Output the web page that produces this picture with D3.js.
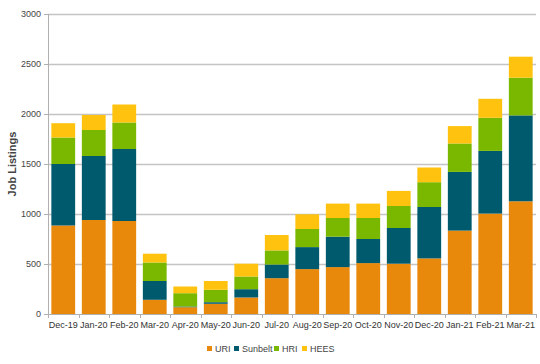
<!DOCTYPE html>
<html>
<head>
<meta charset="utf-8">
<script src="https://cdn.jsdelivr.net/npm/d3@7"></script>
<style>
  body { margin: 0; background: #fff; }
  text { font-family: "Liberation Sans", Arial, sans-serif; }
</style>
</head>
<body>
<div id="chart-area"></div>
<script>
var months = ["Dec-19", "Jan-20", "Feb-20", "Mar-20", "Apr-20", "May-20", "Jun-20", "Jul-20",
  "Aug-20", "Sep-20", "Oct-20", "Nov-20", "Dec-20", "Jan-21", "Feb-21", "Mar-21"]
var seriesNames = ["URI", "Sunbelt", "HRI", "HEES"]
var uri     = [885, 940, 930, 142, 68, 102, 165, 358, 449, 469, 509, 503, 556, 834, 1004, 1127]
var sunbelt = [615, 640, 720, 188, 7, 16, 83, 137, 220, 304, 241, 357, 514, 587, 627, 859]
var hri     = [265, 260, 265, 185, 133, 124, 127, 141, 181, 187, 210, 220, 248, 284, 331, 377]
var hees    = [143, 150, 180, 88, 67, 88, 128, 154, 147, 144, 144, 151, 147, 174, 190, 210]
var yTicks = [0, 500, 1000, 1500, 2000, 2500, 3000]
var colors = ["#E8890C", "#005A6E", "#7AB800", "#FFC20E"]

var margin = { left: 48, right: 4, top: 14, bottom: 50 }
var width = 540 - margin.left - margin.right,
    height = 364 - margin.top - margin.bottom

var svg = d3.select("#chart-area")
    .append("svg")
    .attr("width", 540)
    .attr("height", 364)
var g = svg.append("g")
    .attr("transform", "translate(" + margin.left + "," + margin.top + ")")

var x = d3.scaleBand()
    .domain(months)
    .range([0, width])
    .paddingInner(0.22)
    .paddingOuter(0.11)
var y = d3.scaleLinear()
    .domain([0, 3000])
    .range([height, 0])
var color = d3.scaleOrdinal().domain(seriesNames).range(colors)

// gridlines
g.selectAll(".grid")
    .data(yTicks.slice(1))
    .enter().append("line")
    .attr("x1", 0).attr("x2", width)
    .attr("y1", d => y(d) + 0.5).attr("y2", d => y(d) + 0.5)
    .attr("stroke", "#c4c4c4")
    .attr("stroke-width", 1.3)

var rows = months.map((m, i) => ({ month: m, URI: uri[i], Sunbelt: sunbelt[i], HRI: hri[i], HEES: hees[i] }))
var stacked = d3.stack().keys(seriesNames)(rows)

g.selectAll(".layer")
    .data(stacked)
    .enter().append("g")
    .attr("fill", d => color(d.key))
    .selectAll("rect")
    .data(d => d)
    .enter().append("rect")
    .attr("x", d => x(d.data.month))
    .attr("width", x.bandwidth())
    .attr("y", d => y(d[1]))
    .attr("height", d => y(d[0]) - y(d[1]))

// y axis
var yAxisCall = d3.axisLeft(y).tickValues(yTicks).tickFormat(d3.format("d")).tickSize(4).tickPadding(3)
var yAxis = g.append("g").call(yAxisCall)
yAxis.select(".domain").attr("stroke", "#b0b0b0").attr("d", "M0.5," + height + "V0")
yAxis.selectAll(".tick line").attr("stroke", "#b0b0b0")
yAxis.selectAll("text").attr("fill", "#444").attr("font-size", "9px")
    .attr("font-family", "Liberation Sans, Arial, sans-serif")

// x axis with ticks between categories
var xAxis = g.append("g").attr("transform", "translate(0," + height + ")")
xAxis.append("line")
    .attr("x1", 0).attr("x2", width)
    .attr("y1", 0.5).attr("y2", 0.5)
    .attr("stroke", "#b0b0b0")
var bounds = d3.range(months.length + 1).map(i => i * width / months.length)
xAxis.selectAll(".xtick")
    .data(bounds)
    .enter().append("line")
    .attr("x1", d => Math.round(d) + 0.5).attr("x2", d => Math.round(d) + 0.5)
    .attr("y1", 0).attr("y2", 4)
    .attr("stroke", "#b0b0b0")
xAxis.selectAll(".xlabel")
    .data(months)
    .enter().append("text")
    .attr("x", d => x(d) + x.bandwidth() / 2)
    .attr("y", 14)
    .attr("text-anchor", "middle")
    .attr("font-size", "9px")
    .attr("fill", "#333")
    .text(d => d)

// y label
svg.append("text")
    .attr("transform", "rotate(-90)")
    .attr("x", -(margin.top + height / 2))
    .attr("y", 16)
    .attr("text-anchor", "middle")
    .attr("font-size", "11px")
    .attr("font-weight", "bold")
    .attr("fill", "#444")
    .text("Job Listings")

// legend
var legendX = [207, 234, 274, 302]
var legend = svg.selectAll(".legend")
    .data(seriesNames)
    .enter().append("g")
    .attr("transform", (d, i) => "translate(" + legendX[i] + ",346)")
legend.append("rect")
    .attr("width", 5).attr("height", 5)
    .attr("y", 0)
    .attr("fill", d => color(d))
legend.append("text")
    .attr("x", 8).attr("y", 6)
    .attr("font-size", "9px")
    .attr("fill", "#444")
    .text(d => d)
</script>
</body>
</html>
